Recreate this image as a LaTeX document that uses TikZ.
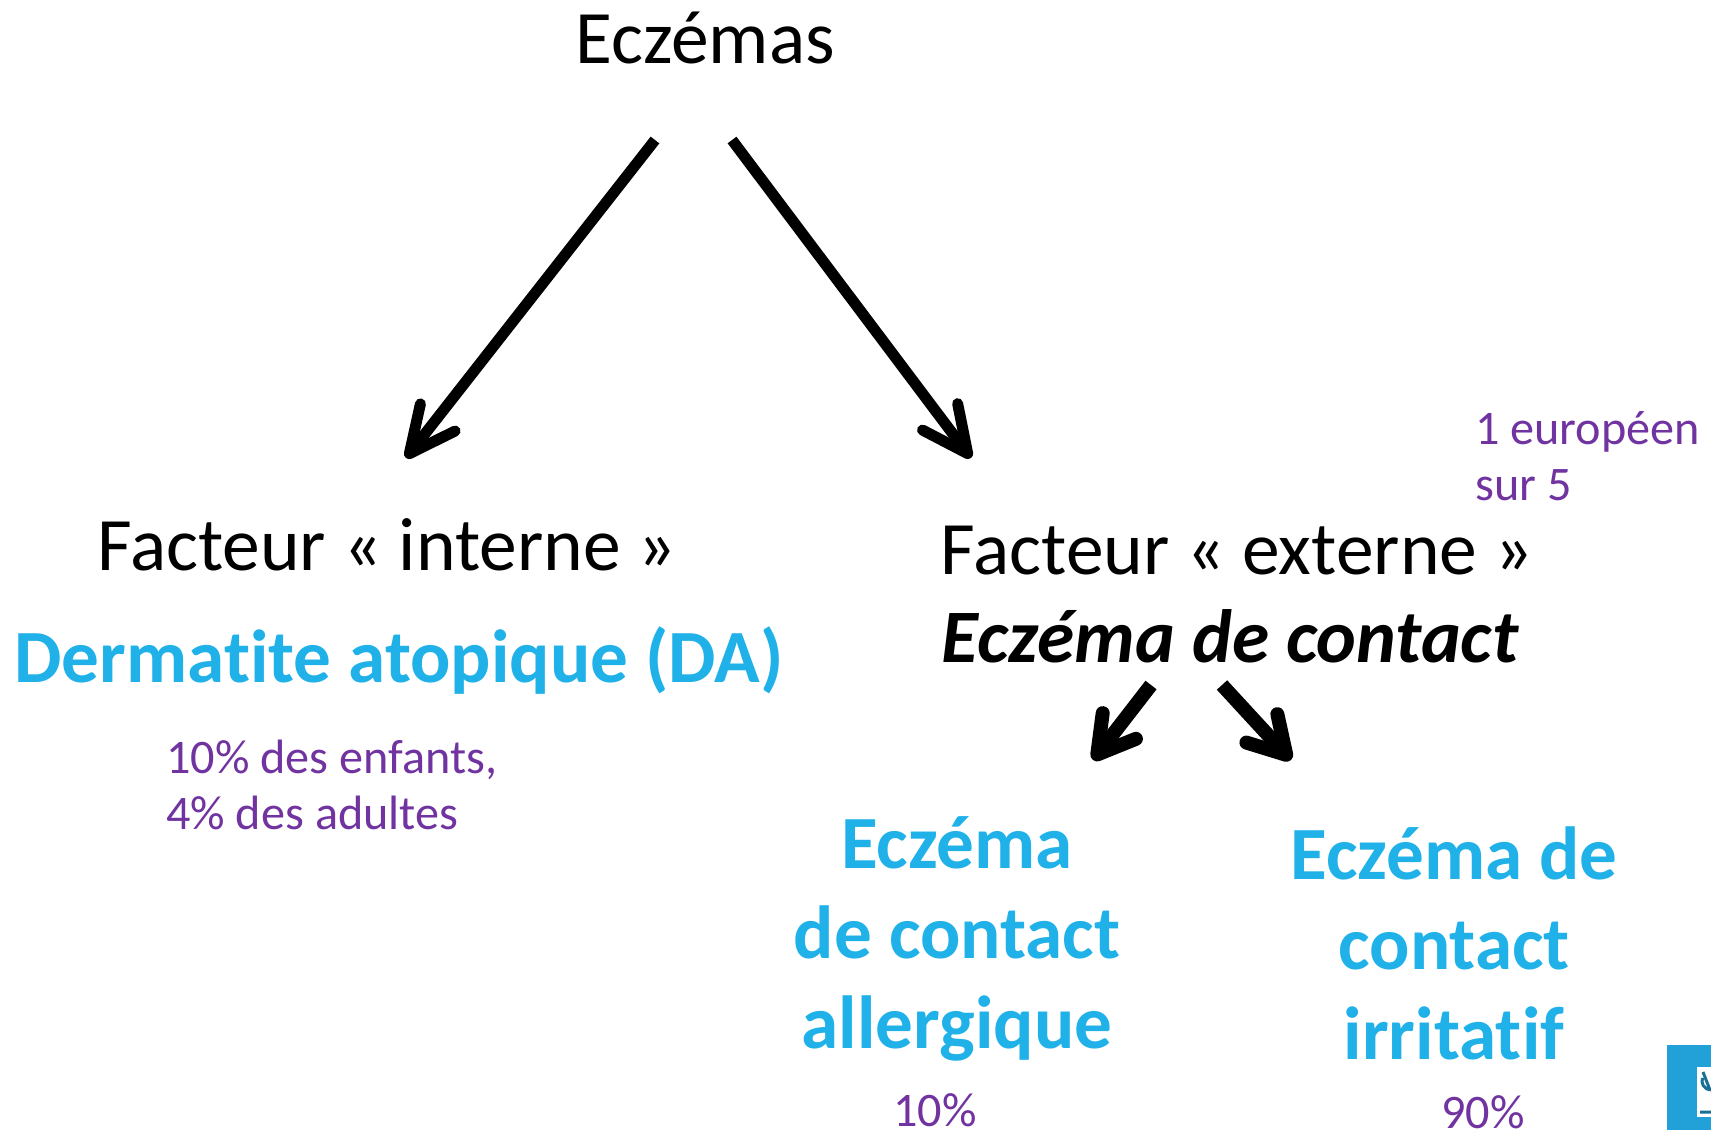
\documentclass[tikz,border=0pt]{standalone}
\usepackage{fontspec}
\setmainfont[Ligatures=NoCommon]{Carlito}
\usepackage{tikz}
\usetikzlibrary{positioning,arrows.meta}
\definecolor{titreblue}{HTML}{1FB1E8}
\definecolor{notepurple}{HTML}{7033A0}
\definecolor{logoblue}{HTML}{22A0D8}
\tikzset{
	titre/.style={font=\fontsize{75.5}{89}\selectfont, text=black, inner sep=0pt},
	souscat/.style={font=\fontsize{75.2}{90}\selectfont\bfseries, text=titreblue, align=center, inner sep=0pt},
	note/.style={font=\fontsize{48.2}{56}\selectfont, text=notepurple, inner sep=0pt},
	fleche/.style={-{Straight Barb[length=46pt, width=44pt, round]}, line width=11pt},
	petitefleche/.style={-{Straight Barb[length=36pt, width=42pt, round]}, line width=14pt}
}
\begin{document}
\begin{tikzpicture}[x=1pt, y=-1pt]
	\useasboundingbox (0, 0) rectangle (1711, 1130);
	\node[titre] (Eczemas) at (705, 38) {Eczémas};
	\node[titre] (Interne) at (387, 545) {Facteur « interne »};
	\node[titre] (Externe) at (1237, 551) {Facteur « externe »};
	\node[titre, font=\fontsize{75.5}{89}\selectfont\bfseries\itshape] (Contact) at (1230, 636) {Eczéma de contact};
	\node[souscat] (DA) at (399, 660) {Dermatite atopique (DA)};
	\node[souscat] (Allergique) at (957, 939) {Eczéma\\de contact\\allergique};
	\node[souscat] (Irritatif) at (1454, 943) {Eczéma de\\contact\\irritatif};
	\node[note, align=left, anchor=west] (NoteDA) at (166, 785) {10\% des enfants,\\4\% des adultes};
	\node[note, align=left, anchor=west] (NoteEurope) at (1475, 456) {1 européen\\sur 5};
	\node[note] (NoteDix) at (935, 1110) {10\%};
	\node[note] (NoteNeuf) at (1483, 1112) {90\%};
	\draw[fleche] ([shift={(-50, 102)}]Eczemas.center) -- ([shift={(19, -87)}]Interne.center);
	\draw[fleche] ([shift={(27, 102)}]Eczemas.center) -- ([shift={(-266, -93)}]Externe.center);
	\draw[petitefleche] ([shift={(-79, 49)}]Contact.center) -- ([shift={(-137, 124)}]Contact.center);
	\draw[petitefleche] ([shift={(-8, 49)}]Contact.center) -- ([shift={(61, 124)}]Contact.center);
	% logo
	\fill[logoblue] (1667, 1045) rectangle (1711, 1130);
	\fill[white] (1697, 1067) rectangle (1711, 1117);
	\draw[logoblue!70!black, line width=3pt] (1703, 1072) -- (1710, 1090) (1711, 1090) arc (90:200:9) (1700, 1112) -- (1711, 1112);
\end{tikzpicture}
\end{document}
